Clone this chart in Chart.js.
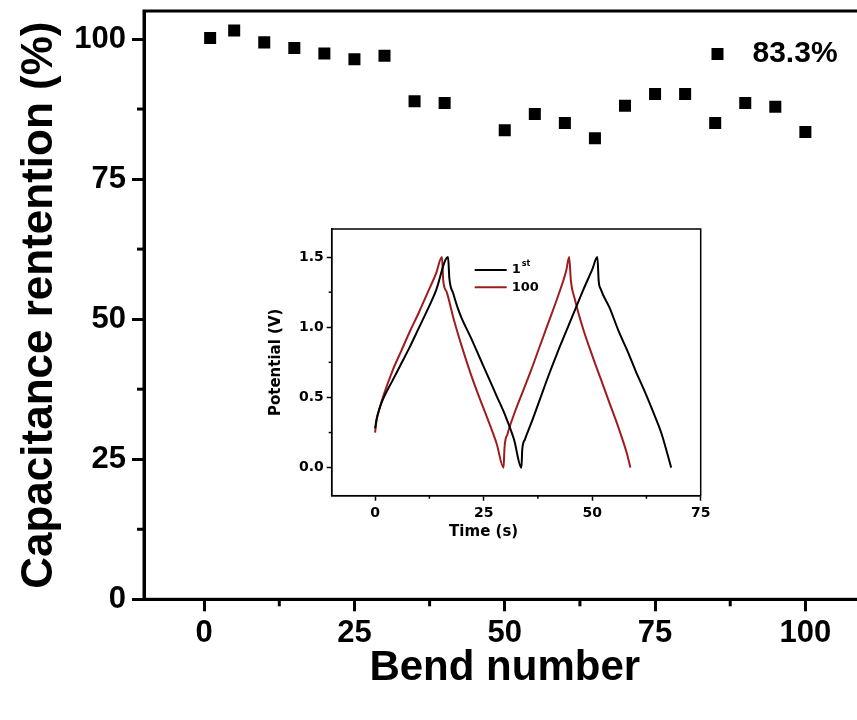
<!DOCTYPE html>
<html>
<head>
<meta charset="utf-8">
<script src="https://cdn.jsdelivr.net/npm/chart.js@4.4.0/dist/chart.umd.min.js"></script>
<style>
  html, body { margin: 0; padding: 0; background: #fff; overflow: hidden; }
  #wrap { position: relative; width: 857px; height: 720px; overflow: hidden; }
  #main { position: absolute; left: 0; top: 0; }
  #inset { position: absolute; left: 260px; top: 215px; }
</style>
</head>
<body>
<div id="wrap">
  <canvas id="main" width="874" height="720"></canvas>
  <canvas id="inset" width="460" height="330"></canvas>
</div>
<script>
// main plot: retention vs bend number
const bends = [1, 5, 10, 15, 20, 25, 30, 35, 40, 50, 55, 60, 65, 70, 75, 80, 85, 90, 95, 100];
const retention = [100.2, 101.5, 99.4, 98.4, 97.4, 96.4, 97.0, 88.9, 88.6, 83.7, 86.6, 85.0, 82.3, 88.1, 90.2, 90.2, 85.0, 88.6, 87.9, 83.4];
const bendTicks = [0, 25, 50, 75, 100];
const retTicks = [0, 25, 50, 75, 100];
const retNote = '83.3%';

// inset: charge/discharge curves
const t1st = [0, 0.3, 1, 2, 4, 6, 8, 10, 12, 14, 16.8, 17.1, 18, 19, 20, 22, 24, 26, 28, 30, 32, 33.7,
  33.9, 34.5, 36, 38, 40, 42, 44, 46, 48, 50, 51.2, 51.5, 52, 54, 56, 58, 60, 62, 64, 66, 68.2];
const v1st = [0.28, 0.34, 0.42, 0.5, 0.62, 0.74, 0.86, 0.99, 1.12, 1.26, 1.5, 1.35, 1.24, 1.14, 1.06, 0.93, 0.79, 0.65, 0.51, 0.37, 0.2, 0,
  0.13, 0.2, 0.32, 0.49, 0.66, 0.82, 0.97, 1.12, 1.27, 1.41, 1.5, 1.33, 1.27, 1.14, 0.98, 0.84, 0.69, 0.55, 0.4, 0.24, 0];
const t100 = [0, 0.3, 1, 2, 4, 6, 8, 10, 12, 14, 15.4, 15.7, 16.5, 18, 20, 22, 24, 26, 28, 29.6,
  29.8, 30.5, 32, 34, 36, 38, 40, 42, 44, 44.7, 45.1, 46, 48, 50, 52, 54, 56, 58, 58.8];
const v100 = [0.25, 0.33, 0.42, 0.52, 0.69, 0.83, 0.97, 1.1, 1.24, 1.38, 1.5, 1.33, 1.25, 1.07, 0.86, 0.67, 0.5, 0.34, 0.17, 0,
  0.14, 0.24, 0.38, 0.54, 0.7, 0.87, 1.04, 1.21, 1.4, 1.5, 1.33, 1.2, 0.98, 0.8, 0.63, 0.46, 0.29, 0.1, 0];
const curveLabels = ['1', '100'];
const curveSup = ['st', ''];
const timeTicks = [0, 25, 50, 75];
const potTicks = [0, 0.5, 1.0, 1.5];

const mainFont = "'Liberation Sans', Arial, sans-serif";
const insetFont = "'DejaVu Sans', sans-serif";

function setTicks(list) {
  return function(scale) { scale.ticks = list.map(v => ({value: v})); };
}

// fixed axis size, and no extra room reserved for edge labels
function fixSize(key, val) {
  return function(s) {
    s[key] = val;
    s.paddingTop = 0; s.paddingBottom = 0; s.paddingLeft = 0; s.paddingRight = 0;
  };
}

// box around plot area + short minor ticks halfway between majors
function frameAndMinor(lw, minorLen) {
  return {
    id: 'frameAndMinor',
    afterDraw(chart) {
      const {ctx, chartArea: a} = chart;
      ctx.save();
      ctx.strokeStyle = '#000';
      ctx.lineWidth = lw;
      ctx.strokeRect(a.left, a.top, a.right - a.left, a.bottom - a.top);
      ['x', 'y'].forEach(id => {
        const s = chart.scales[id];
        const tk = s.ticks.map(t => t.value);
        for (let i = 0; i < tk.length - 1; i++) {
          const m = (tk[i] + tk[i + 1]) / 2;
          const p = s.getPixelForValue(m);
          ctx.beginPath();
          if (id === 'x') { ctx.moveTo(p, a.bottom); ctx.lineTo(p, a.bottom + minorLen); }
          else { ctx.moveTo(a.left, p); ctx.lineTo(a.left - minorLen, p); }
          ctx.stroke();
        }
      });
      ctx.restore();
    }
  };
}

(function(){
  const ctx = document.getElementById('main');

  const note = {
    id: 'note',
    afterDraw(chart) {
      const {ctx, chartArea: a} = chart;
      ctx.save();
      ctx.fillStyle = '#000';
      ctx.fillRect(a.right - 154, a.top + 37, 12, 12);
      ctx.font = 'bold 30px ' + mainFont;
      ctx.textBaseline = 'middle';
      ctx.textAlign = 'left';
      ctx.fillText(retNote, a.right - 113, a.top + 43);
      ctx.restore();
    }
  };

  new Chart(ctx, {
    type: 'scatter',
    data: {
      datasets: [{
        data: bends.map((b, i) => ({x: b, y: retention[i]})),
        pointStyle: 'rect',
        pointRadius: 8.5,
        pointHoverRadius: 8.5,
        backgroundColor: '#000',
        borderWidth: 0
      }]
    },
    options: {
      responsive: false,
      animation: false,
      devicePixelRatio: 1,
      layout: { padding: { top: 11, right: 5, left: 0, bottom: 0 } },
      plugins: { legend: { display: false }, tooltip: { enabled: false } },
      scales: {
        x: {
          type: 'linear', min: -10, max: 110,
          afterFit: fixSize('height', 120.7),
          afterBuildTicks: setTicks(bendTicks),
          border: { color: '#000', width: 3 },
          grid: { drawOnChartArea: false, tickLength: 12, tickWidth: 3, tickColor: '#000' },
          ticks: { color: '#000', padding: 4, font: { family: mainFont, size: 31, weight: 'bold' } },
          title: {
            display: true, text: 'Bend number', color: '#000',
            font: { family: mainFont, size: 42, weight: 'bold' },
            padding: { bottom: 26 }
          }
        },
        y: {
          type: 'linear', min: 0, max: 105,
          afterFit: fixSize('width', 144),
          afterBuildTicks: setTicks(retTicks),
          border: { color: '#000', width: 3 },
          grid: { drawOnChartArea: false, tickLength: 12, tickWidth: 3, tickColor: '#000' },
          ticks: { color: '#000', padding: 6, font: { family: mainFont, size: 31, weight: 'bold' } },
          title: {
            display: true, text: 'Capacitance rentention (%)', color: '#000',
            font: { family: mainFont, size: 44, weight: 'bold' },
            padding: { top: 13 }
          }
        }
      }
    },
    plugins: [frameAndMinor(3, 7), note]
  });
})();

(function(){
  const ctx = document.getElementById('inset');
  const colors = ['#000000', '#9E1C1C'];

  const legendAndTitle = {
    id: 'legendAndTitle',
    afterDraw(chart) {
      const {ctx, chartArea: a} = chart;
      ctx.save();
      chart.data.datasets.forEach((ds, i) => {
        const y = a.top + 41 + i * 17.3;
        const x0 = a.left + 143;
        ctx.strokeStyle = ds.borderColor;
        ctx.lineWidth = 2;
        ctx.beginPath();
        ctx.moveTo(x0, y);
        ctx.lineTo(x0 + 32, y);
        ctx.stroke();
        ctx.fillStyle = '#000';
        ctx.textBaseline = 'middle';
        ctx.font = 'bold 13px ' + insetFont;
        ctx.fillText(curveLabels[i], x0 + 37, y);
        if (curveSup[i]) {
          const w = ctx.measureText(curveLabels[i]).width;
          ctx.font = 'bold 8px ' + insetFont;
          ctx.fillText(curveSup[i], x0 + 38 + w, y - 6);
        }
      });
      // axis title sits under the 25 s tick in the original
      ctx.font = 'bold 15px ' + insetFont;
      ctx.textAlign = 'center';
      ctx.textBaseline = 'middle';
      ctx.fillText('Time (s)', chart.scales.x.getPixelForValue(25), a.bottom + 36);
      ctx.restore();
    }
  };

  new Chart(ctx, {
    type: 'line',
    data: {
      datasets: [
        { label: '1st', data: t1st.map((t, i) => ({x: t, y: v1st[i]})), borderColor: colors[0] },
        { label: '100', data: t100.map((t, i) => ({x: t, y: v100[i]})), borderColor: colors[1] }
      ]
    },
    options: {
      responsive: false,
      animation: false,
      devicePixelRatio: 1,
      layout: { padding: { top: 14, right: 19.3, left: 0, bottom: 0 } },
      elements: {
        point: { radius: 0, hoverRadius: 0 },
        line: { borderWidth: 2, cubicInterpolationMode: 'monotone', fill: false }
      },
      plugins: { legend: { display: false }, tooltip: { enabled: false } },
      scales: {
        x: {
          type: 'linear', min: -10, max: 75,
          afterFit: fixSize('height', 49.3),
          afterBuildTicks: setTicks(timeTicks),
          border: { color: '#000', width: 1.5 },
          grid: { drawOnChartArea: false, tickLength: 5, tickWidth: 1.5, tickColor: '#000' },
          ticks: { color: '#000', padding: 4, font: { family: insetFont, size: 14, weight: 'bold' } }
        },
        y: {
          type: 'linear', min: -0.2, max: 1.7,
          afterFit: fixSize('width', 71.7),
          afterBuildTicks: setTicks(potTicks),
          border: { color: '#000', width: 1.5 },
          grid: { drawOnChartArea: false, tickLength: 5, tickWidth: 1.5, tickColor: '#000' },
          ticks: {
            color: '#000', padding: 3,
            font: { family: insetFont, size: 14, weight: 'bold' },
            callback: v => v.toFixed(1)
          },
          title: {
            display: true, text: 'Potential (V)', color: '#000',
            font: { family: insetFont, size: 15, weight: 'bold' },
            padding: { top: 7 }
          }
        }
      }
    },
    plugins: [frameAndMinor(1.5, 3), legendAndTitle]
  });
})();
</script>
</body>
</html>
